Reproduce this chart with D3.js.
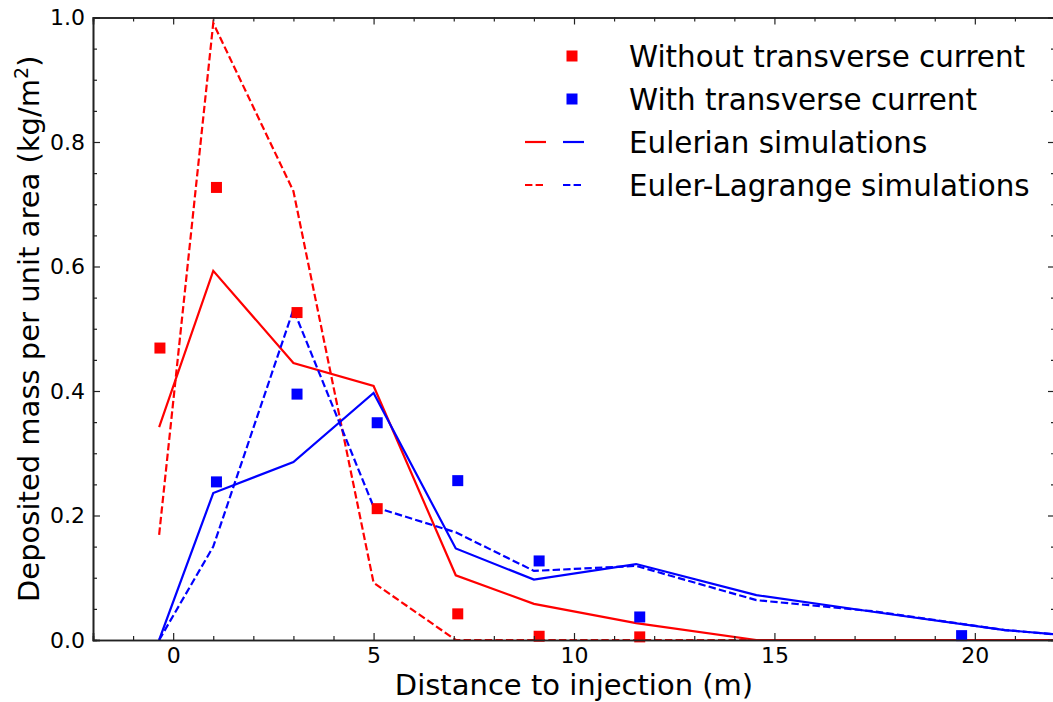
<!DOCTYPE html>
<html><head><meta charset="utf-8">
<script src="https://cdn.jsdelivr.net/npm/d3@7"></script>
<style>body{margin:0;background:#fff}svg{display:block}text{font-family:"DejaVu Sans",sans-serif}</style>
</head><body><svg id="c" width="1053" height="702"></svg>
<script>
// Experimental data (squares)
const expX = [-0.33, 1.08, 3.09, 5.09, 7.10, 9.13, 11.64];
const expWithout = [0.469, 0.727, 0.526, 0.211, 0.042, 0.006, 0.005];
const expWithX = [1.08, 3.09, 5.09, 7.10, 9.13, 11.64, 19.67];
const expWith = [0.254, 0.395, 0.349, 0.256, 0.127, 0.037, 0.007];
// Eulerian simulations (solid lines)
const simX = [-0.35, 1, 3, 5, 7.05, 9, 11.55, 14.55, 17.5, 20.75, 22];
const eulWithout = [0.342, 0.593, 0.445, 0.408, 0.104, 0.058, 0.027, 0.0, 0.0, 0.0, 0.0];
const eulWith = [0.0, 0.236, 0.286, 0.397, 0.147, 0.097, 0.122, 0.072, 0.045, 0.016, 0.009];
// Euler-Lagrange simulations (dashed lines)
const elWithout = [0.169, 0.991, 0.721, 0.092, 0.0, 0.0, 0.0, 0.0, 0.0, 0.0, 0.0];
const elWith = [0.0, 0.150, 0.531, 0.214, 0.173, 0.111, 0.119, 0.064, 0.046, 0.016, 0.009];
const xTicks = [0, 5, 10, 15, 20];
const yTicks = [0.0, 0.2, 0.4, 0.6, 0.8, 1.0];
const legendLabels = ["Without transverse current", "With transverse current", "Eulerian simulations", "Euler-Lagrange simulations"];

const svg = d3.select("#c");
const L = 93, R = 1055, T = 17.5, B = 640;
const x = d3.scaleLinear().domain([-2, 22]).range([L, R]);
const y = d3.scaleLinear().domain([0, 1]).range([B, T]);
const RED = "#ff0000", BLUE = "#0000ff";

svg.append("clipPath").attr("id", "clp").append("rect")
  .attr("x", L).attr("y", T).attr("width", R - L).attr("height", B - T);

const plot = svg.append("g").attr("clip-path", "url(#clp)");
const line = d3.line().x((d, i) => x(simX[i])).y(d => y(d));
function drawLine(vals, color, dashed) {
  plot.append("path").attr("d", line(vals)).attr("fill", "none")
    .attr("stroke", color).attr("stroke-width", 2.2)
    .attr("stroke-dasharray", dashed ? "7.4,3.2" : null);
}
drawLine(eulWithout, RED, false);
drawLine(elWithout, RED, true);
drawLine(eulWith, BLUE, false);
drawLine(elWith, BLUE, true);

const S = 11;
function drawSquares(xs, ys, color) {
  svg.append("g").selectAll("rect").data(ys).join("rect")
    .attr("x", (d, i) => x(xs[i]) - S / 2).attr("y", d => y(d) - S / 2)
    .attr("width", S).attr("height", S).attr("fill", color);
}
drawSquares(expX, expWithout, RED);
drawSquares(expWithX, expWith, BLUE);

// axes
const axColor = "#222";
const minorX = d3.range(-1, 22, 1).filter(v => v % 5 !== 0);
const minorY = d3.range(1, 20).filter(i => i % 4 !== 0).map(i => i * 0.05);
const gx = svg.append("g").attr("transform", `translate(0,${B})`)
  .call(d3.axisBottom(x).tickValues(xTicks).tickFormat(d3.format("d")).tickSize(-7).tickPadding(7));
const gxm = svg.append("g").attr("transform", `translate(0,${B})`)
  .call(d3.axisBottom(x).tickValues(minorX).tickSize(-4).tickFormat(""));
const gxt = svg.append("g").attr("transform", `translate(0,${T})`)
  .call(d3.axisTop(x).tickValues(xTicks).tickSize(-7).tickFormat(""));
const gxtm = svg.append("g").attr("transform", `translate(0,${T})`)
  .call(d3.axisTop(x).tickValues(minorX).tickSize(-4).tickFormat(""));
const gy = svg.append("g").attr("transform", `translate(${L},0)`)
  .call(d3.axisLeft(y).tickValues(yTicks).tickFormat(d3.format(".1f")).tickSize(-7).tickPadding(8));
const gym = svg.append("g").attr("transform", `translate(${L},0)`)
  .call(d3.axisLeft(y).tickValues(minorY).tickSize(-4).tickFormat(""));
const gyr = svg.append("g").attr("transform", `translate(${R},0)`)
  .call(d3.axisRight(y).tickValues(yTicks).tickSize(-7).tickFormat(""));
const gyrm = svg.append("g").attr("transform", `translate(${R},0)`)
  .call(d3.axisRight(y).tickValues(minorY).tickSize(-4).tickFormat(""));
[gx, gxm, gxt, gxtm, gy, gym, gyr, gyrm].forEach(g => {
  g.selectAll(".domain").attr("stroke", axColor).attr("stroke-width", 1.6);
  g.selectAll(".tick line").attr("stroke", axColor).attr("stroke-width", 1.2);
  g.selectAll(".tick text").attr("font-size", 22).attr("fill", "#000")
    .attr("font-family", "DejaVu Sans");
});

svg.append("text").attr("x", (L + R) / 2).attr("y", 695).attr("text-anchor", "middle")
  .attr("font-size", 29).text("Distance to injection (m)");
const yl = svg.append("text").attr("transform", `translate(39,${(T + B) / 2}) rotate(-90)`)
  .attr("text-anchor", "middle").attr("font-size", 29);
yl.append("tspan").text("Deposited mass per unit area (kg/m");
yl.append("tspan").attr("font-size", 19).attr("dy", -11).text("2");
yl.append("tspan").attr("dy", 11).text(")");

// legend
const lg = svg.append("g");
const rowsY = [56, 99, 142, 185];
const tx = 629;
legendLabels.forEach((t, i) => {
  lg.append("text").attr("x", tx).attr("y", rowsY[i]).attr("dy", "0.36em")
    .attr("font-size", 29.4).text(t);
});
lg.append("rect").attr("x", 572 - S / 2).attr("y", rowsY[0] - S / 2).attr("width", S).attr("height", S).attr("fill", RED);
lg.append("rect").attr("x", 572 - S / 2).attr("y", rowsY[1] - S / 2).attr("width", S).attr("height", S).attr("fill", BLUE);
[[RED, 525], [BLUE, 563]].forEach(([c, x0]) => {
  lg.append("line").attr("x1", x0).attr("x2", x0 + 21).attr("y1", rowsY[2]).attr("y2", rowsY[2])
    .attr("stroke", c).attr("stroke-width", 2.2);
  lg.append("line").attr("x1", x0).attr("x2", x0 + 21).attr("y1", rowsY[3]).attr("y2", rowsY[3])
    .attr("stroke", c).attr("stroke-width", 2.2).attr("stroke-dasharray", "7.4,3.2");
});
</script></body></html>
